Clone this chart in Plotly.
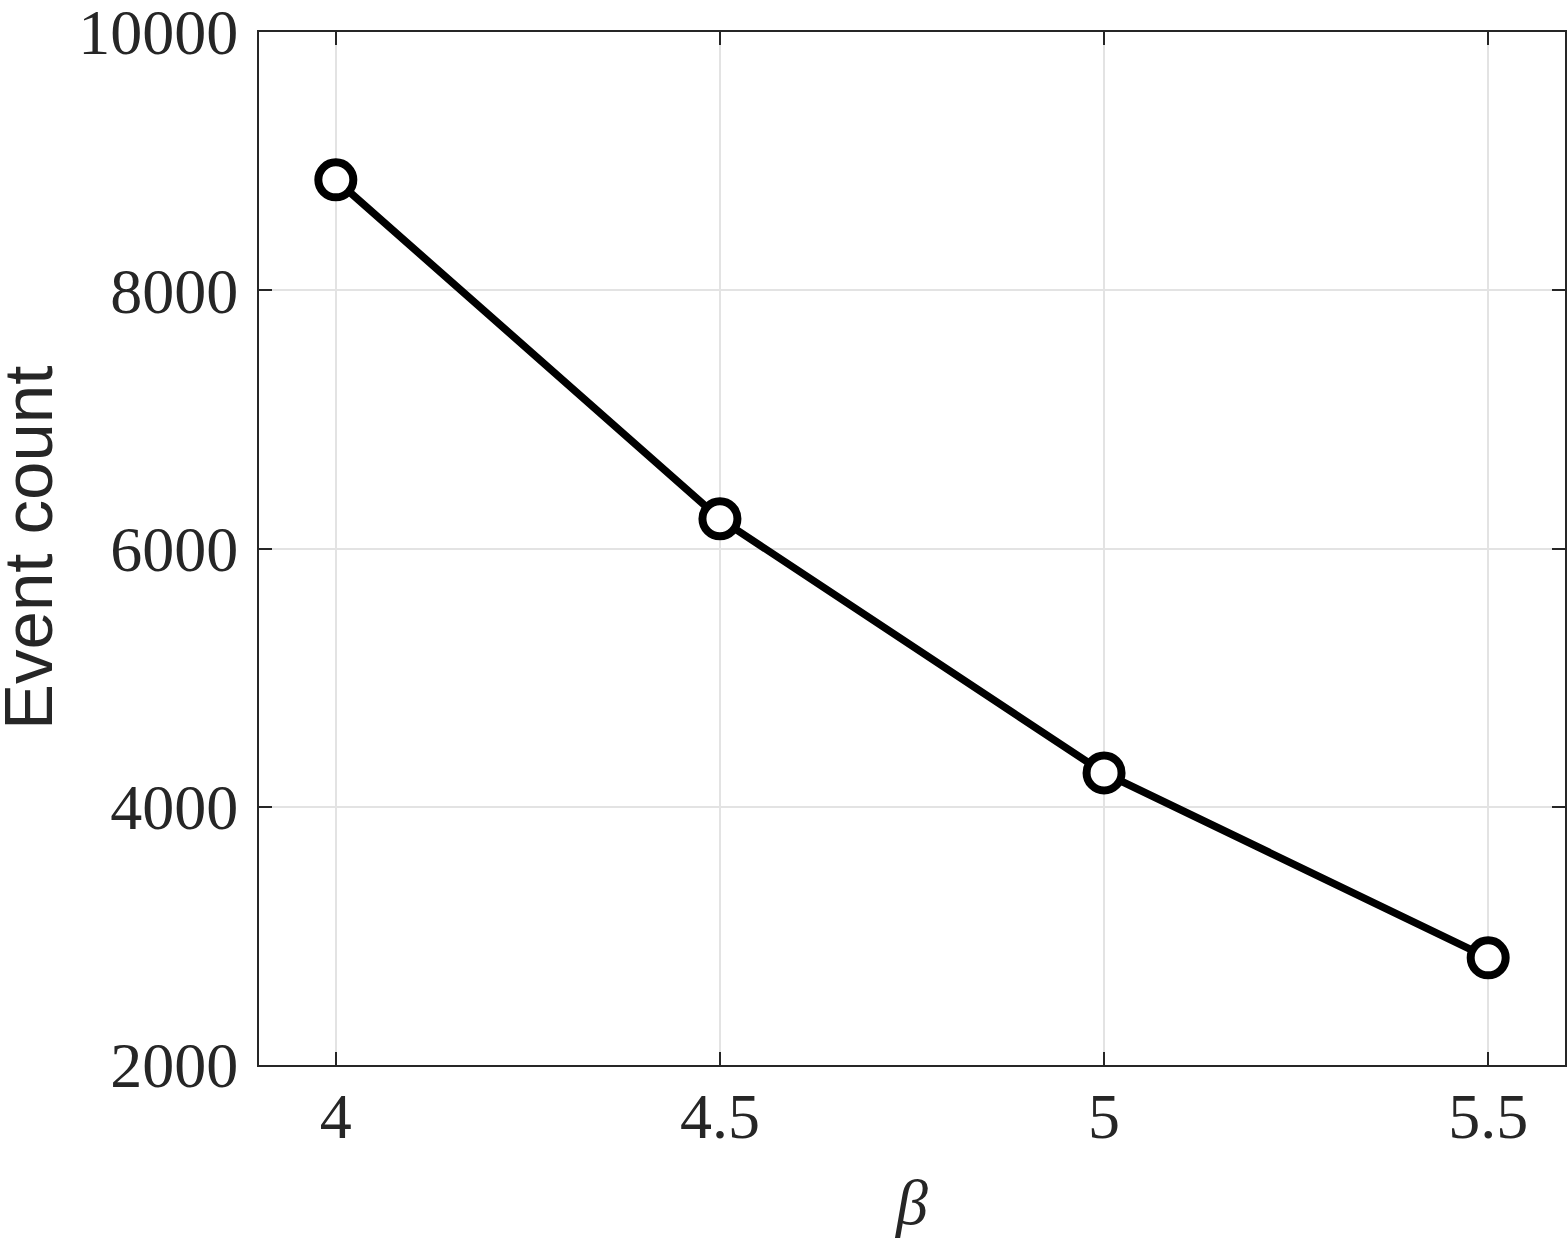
import plotly.graph_objects as go

beta = [4, 4.5, 5, 5.5]
event_count = [8855, 6230, 4262, 2830]
x_ticks = [4, 4.5, 5, 5.5]
x_tick_labels = ["4", "4.5", "5", "5.5"]
y_ticks = [2000, 4000, 6000, 8000, 10000]
y_tick_labels = ["2000", "4000", "6000", "8000", "10000"]

fig = go.Figure()
fig.add_trace(go.Scatter(
    x=beta, y=event_count, mode="lines+markers",
    line=dict(color="black", width=7.5),
    marker=dict(symbol="circle", size=35, color="white",
                line=dict(color="black", width=8)),
    showlegend=False, cliponaxis=False,
))

serif = "Liberation Serif, DejaVu Serif, serif"
axis_common = dict(
    showline=True, linecolor="#262626", linewidth=2, mirror="allticks",
    ticks="inside", ticklen=13, tickwidth=2, tickcolor="#262626",
    showgrid=True, gridcolor="#e3e3e3", gridwidth=1.5,
    zeroline=False, automargin=False, ticklabeloverflow="allow",
    tickfont=dict(family=serif, size=64, color="#262626"),
)

fig.update_layout(
    width=1568, height=1240,
    margin=dict(l=259, r=3, t=32, b=175, autoexpand=False),
    paper_bgcolor="white", plot_bgcolor="white",
    xaxis=dict(range=[3.9, 5.6], tickvals=x_ticks, ticktext=x_tick_labels,
               ticklabelstandoff=-6,
               title=dict(text="<i>β</i>", font=dict(family=serif, size=64, color="#262626"),
                          standoff=28),
               **axis_common),
    yaxis=dict(range=[2000, 10000], tickvals=y_ticks, ticktext=y_tick_labels,
               ticklabelstandoff=6,
               **axis_common),
    annotations=[dict(
        text="Event count", textangle=-90, showarrow=False,
        xref="paper", yref="paper", x=0, y=0.5,
        xanchor="left", yanchor="middle", xshift=-270, borderpad=0,
        font=dict(family="Liberation Sans, Arial, sans-serif", size=69, color="#262626"),
    )],
)
fig.write_html(
    "out.html",
    config={"responsive": False, "displayModeBar": False},
    post_script="document.body.style.margin='0';document.body.style.overflow='hidden';",
)
